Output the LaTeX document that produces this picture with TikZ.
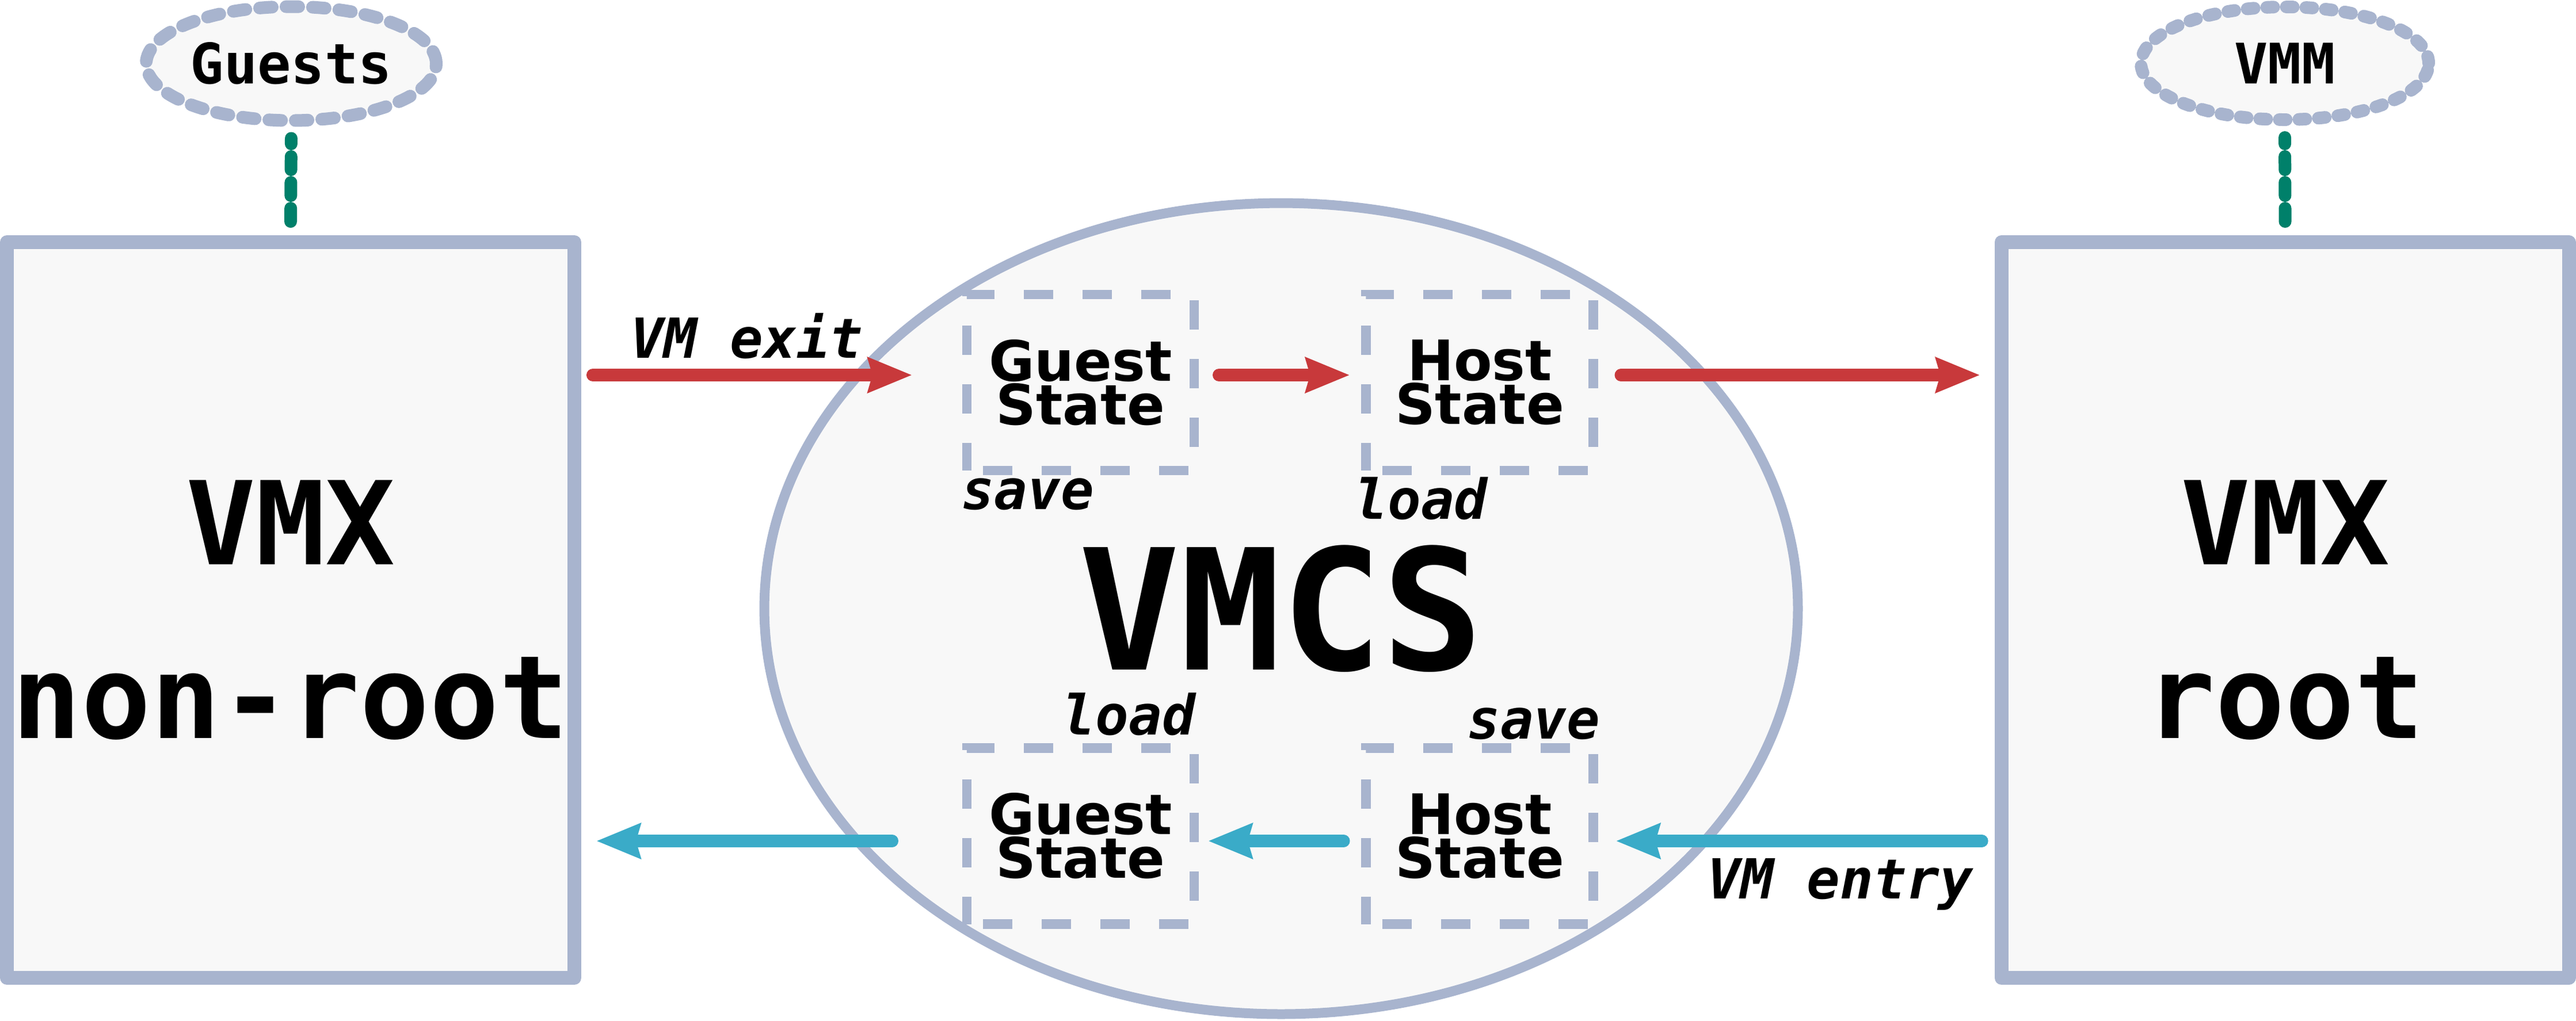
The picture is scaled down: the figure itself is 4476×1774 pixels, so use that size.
\documentclass[tikz,border=0pt]{standalone}
\usepackage{fontspec}
\setmainfont{DejaVu Sans}
\setmonofont{DejaVu Sans Mono}[BoldFont={DejaVu Sans Mono Bold},ItalicFont={DejaVu Sans Mono Oblique},BoldItalicFont={DejaVu Sans Mono Bold Oblique}]
\usetikzlibrary{shapes.geometric,arrows.meta,calc}
\definecolor{cbord}{HTML}{A8B4CE}
\definecolor{cfill}{HTML}{F8F8F8}
\definecolor{cred}{HTML}{C8393B}
\definecolor{cblue}{HTML}{3AABC8}
\definecolor{cgreen}{HTML}{00806A}
\begin{document}
\begin{tikzpicture}[x=0.1pt,y=-0.1pt,
  modebox/.style={draw=cbord,fill=cfill,line width=2.4pt,line join=round,rectangle,inner sep=0pt,outer sep=0pt,
    minimum width=98.6pt,minimum height=127.9pt,align=center,font=\fontsize{20.1}{30.2}\selectfont\ttfamily\bfseries},
  vmcsell/.style={draw=cbord,fill=cfill,line width=1.7pt,ellipse,inner sep=0pt,outer sep=0pt,
    minimum width=179.6pt,minimum height=141pt,font=\fontsize{29.2}{30}\selectfont\ttfamily\bfseries},
  statebox/.style={draw=cbord,line width=1.65pt,dash pattern=on 5.1pt off 5.1pt,dash phase=7.4pt,rectangle,
    inner sep=0pt,outer sep=0pt,minimum width=39.5pt,minimum height=30.6pt,align=center,
    font=\fontsize{9.7}{7.6}\selectfont\bfseries},
  roleell/.style={draw=cbord,fill=cfill,line width=2.2pt,line cap=round,ellipse,inner sep=0pt,outer sep=0pt,
    minimum width=50.4pt,minimum height=19.8pt,font=\fontsize{9.7}{10}\selectfont\ttfamily\bfseries},
  link/.style={draw=cgreen,line width=2.2pt,line cap=round,dash pattern=on 2.3pt off 2.2pt},
  redarr/.style={draw=cred,line width=2.2pt,line cap=round,-{Stealth[length=7.6pt,width=5.9pt,inset=0.7pt]}},
  bluearr/.style={draw=cblue,line width=2.2pt,line cap=round,-{Stealth[length=7.6pt,width=5.9pt,inset=0.7pt]}},
  lbl/.style={inner sep=0pt,outer sep=0pt,font=\fontsize{9.6}{10}\selectfont\ttfamily\bfseries\itshape}
]
\useasboundingbox (0,0) rectangle (4476,1774);

\node[modebox] (nr) at (505,1060.5) {VMX\\non-root};
\node[modebox] (rt) at (3970.5,1060.5) {VMX\\root};
\node[vmcsell] (vmcs) at (2226,1058) {VMCS};

\node[statebox] (gs1) at (1877.5,665) {Guest\\State};
\node[statebox] (hs1) at (2571,665) {Host\\State};
\node[statebox] (gs2) at (1877.5,1453.5) {Guest\\State};
\node[statebox] (hs2) at (2571,1453.5) {Host\\State};

\node[lbl,anchor=base west] (sv1) at ($(gs1.south west)+(-10,67)$) {save};
\node[lbl,anchor=base west] (ld1) at ($(hs1.south west)+(-20,84)$) {load};
\node[lbl,anchor=base east] (ld2) at ($(gs2.north east)+(2,-23)$) {load};
\node[lbl,anchor=base east] (sv2) at ($(hs2.north east)+(12,-16)$) {save};

\coordinate (ry) at (0,652);
\coordinate (by) at (0,1462);

\draw[redarr] ($(nr.east |- ry)+(32,0)$) -- node[lbl,anchor=base,xshift=-1pt,yshift=3pt] (vmexit) {VM exit} ($(gs1.west |- ry)+(-95,0)$);
\draw[redarr] ($(gs1.east |- ry)+(43,0)$) -- ($(hs1.west |- ry)+(-28,0)$);
\draw[redarr] ($(hs1.east |- ry)+(48,0)$) -- ($(rt.west |- ry)+(-37,0)$);

\draw[bluearr] ($(rt.west |- by)+(-34,0)$) -- node[lbl,pos=0,anchor=base east,xshift=-1.5pt,yshift=-10pt] (vmentry) {VM entry} ($(hs2.east |- by)+(39,0)$);
\draw[bluearr] ($(hs2.west |- by)+(-39,0)$) -- ($(gs2.east |- by)+(24,0)$);
\draw[bluearr] ($(gs2.west |- by)+(-130,0)$) -- ($(nr.east |- by)+(38,0)$);

\node[roleell,dash pattern=on 2.2pt off 2.4pt] (guests) at (506,110.5) {Guests};
\node[roleell,minimum width=50pt,minimum height=19.6pt,dash pattern=on 1.2pt off 2.2pt] (vmm) at (3970,110) {VMM};

\draw[link] ($(nr.north)+(0,-36)$) -- ($(guests.south)+(0,31)$);
\draw[link] ($(rt.north)+(0,-36)$) -- ($(vmm.south)+(0,31)$);
\end{tikzpicture}
\end{document}
